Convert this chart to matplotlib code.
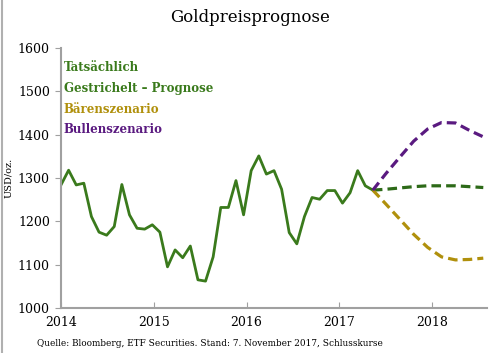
import numpy as np
import matplotlib
matplotlib.use("Agg")
import matplotlib.pyplot as plt
from matplotlib.lines import Line2D

# --- Daten ---
# Tatsächlicher Goldpreis, monatlich ab Januar 2014 (USD/oz.)
actual = [1284, 1318, 1284, 1288, 1211, 1175, 1168, 1188, 1285, 1215,
          1184, 1182, 1192, 1175, 1095, 1134, 1116, 1143, 1065, 1062,
          1118, 1232, 1232, 1294, 1215, 1317, 1351, 1309, 1317, 1274,
          1174, 1148, 1211, 1255, 1251, 1271, 1271, 1242, 1266, 1317,
          1282, 1272]
actual_x = 2014 + np.arange(len(actual)) / 12.2

# Prognosen
fc_x = [2017.36, 2017.5, 2017.65, 2017.8, 2017.95, 2018.1, 2018.25, 2018.4, 2018.55]
base = [1272, 1274, 1277, 1280, 1282, 1282, 1282, 1280, 1278]
bear = [1272, 1240, 1205, 1170, 1140, 1118, 1111, 1112, 1115]
bull = [1272, 1310, 1348, 1385, 1413, 1428, 1427, 1410, 1395]

years = [2014, 2015, 2016, 2017, 2018]
yticks = [1000, 1100, 1200, 1300, 1400, 1500, 1600]

green = "#3a7a1c"
green_d = "#2d6a18"
gold = "#b0900c"
purple = "#5a1a80"
grey = "#a0a0a0"

plt.rcParams["font.family"] = ["DejaVu Serif"]

fig = plt.figure(figsize=(5, 3.53), dpi=100)
ax = fig.add_axes([0.122, 0.1275, 0.852, 0.7365])

ax.plot(actual_x, actual, color=green, lw=2)
ax.plot(fc_x, base, color=green_d, lw=2.3, ls=(0, (3, 1.6)))
ax.plot(fc_x, bear, color=gold, lw=2.3, ls=(0, (3, 1.6)))
ax.plot(fc_x, bull, color=purple, lw=2.3, ls=(0, (3, 1.6)))

ax.set_xlim(2014, 2018.59)
ax.set_ylim(1000, 1600)
ax.set_xticks(years)
ax.set_xticklabels([str(y) for y in years])
ax.set_yticks(yticks)
ax.tick_params(axis="x", direction="in", length=4, color=grey, labelsize=9, pad=6)
ax.tick_params(axis="y", direction="out", length=4, color=grey, labelsize=9, pad=4)
for s in ["top", "right"]:
    ax.spines[s].set_visible(False)
for s in ["left", "bottom"]:
    ax.spines[s].set_color(grey)
    ax.spines[s].set_linewidth(1.5)

ax.set_ylabel("USD/oz.", fontsize=7)
ax.yaxis.set_label_coords(-0.113, 0.5)

# Legende als farbiger Text
legend = [("Tatsächlich", green), ("Gestrichelt \u2013 Prognose", green),
          ("Bärenszenario", gold), ("Bullenszenario", purple)]
for k, (txt, col) in enumerate(legend):
    ax.text(0.006, 0.925 - k * 0.08, txt, color=col, fontsize=8.5,
            fontweight="bold", transform=ax.transAxes, va="center")

fig.text(0.5, 0.95, "Goldpreisprognose", ha="center", va="center", fontsize=12)
fig.text(0.074, 0.028, "Quelle: Bloomberg, ETF Securities. Stand: 7. November 2017, Schlusskurse",
         fontsize=6.4, va="center")

fig.add_artist(Line2D([0.003, 0.003], [0, 1], color="#b0b0b0", lw=1.5,
                      transform=fig.transFigure))

fig.savefig("out.png", dpi=100)
